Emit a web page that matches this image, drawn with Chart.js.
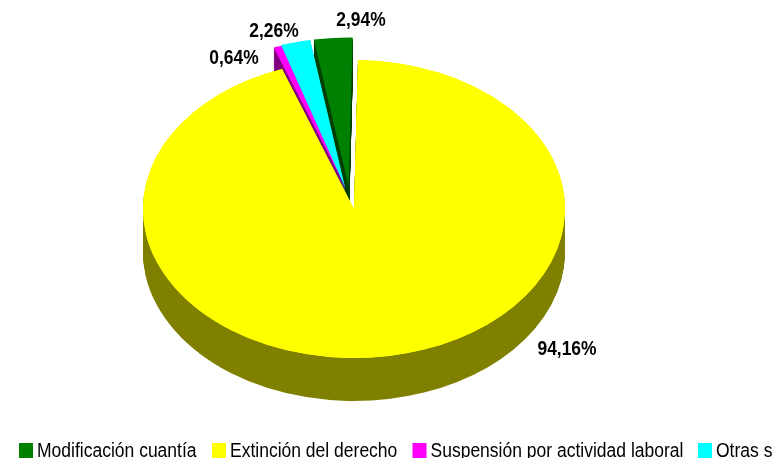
<!DOCTYPE html>
<html><head><meta charset="utf-8">
<style>html,body{margin:0;padding:0;background:#fff;overflow:hidden;width:773px;height:458px}
canvas{display:block}</style>
<script src="https://cdn.jsdelivr.net/npm/chart.js@4"></script></head>
<body><canvas id="c" width="773" height="458" style="width:773px;height:458px"></canvas>
<script>
const categories = ["Modificación cuantía", "Extinción del derecho", "Suspensión por actividad laboral", "Otras situaciones"];
const shares = [2.94, 94.16, 0.64, 2.26];
const topColors = ["#008000", "#FFFF00", "#FF00FF", "#00FFFF"];
const sideColors = ["#004000", "#808000", "#800080", "#008080"];
const explode = [32, 0, 32, 32];
const nudge = [-3, 0, 2, -1.5];
const font = "'Liberation Sans',sans-serif";
const centerX = 354, centerY = 209, squash = 0.706, depth = 43, pieRadius = 211;
const labelSpots = [[361,20],[567,349],[234,58],[274,31]];
const legendStarts = [19, 212, 412.5, 698];

function place(ctx, chart, dy){
  const a = chart.chartArea;
  ctx.translate(centerX, centerY + dy);
  ctx.scale(1, squash);
  ctx.translate(-(a.left + a.right) / 2, -(a.top + a.bottom) / 2);
}
function narrowText(ctx, text, x, y, factor){
  ctx.fillText(text, x, y, ctx.measureText(text).width * factor);
}
const tilt = {
  id: 'tilt',
  beforeDatasetsDraw(chart){
    const ctx = chart.ctx, arcs = chart.getDatasetMeta(0).data, area = chart.chartArea;
    arcs.forEach((a,i) => {
      const mid = (a.startAngle + a.endAngle) / 2;
      a.x = (area.left + area.right) / 2 + Math.cos(mid) * explode[i] + nudge[i];
      a.y = (area.top + area.bottom) / 2 + Math.sin(mid) * explode[i];
    });
    [0,3,2,1].forEach(i => {
      const arc = arcs[i], saved = arc.options;
      arc.options = Object.assign(Object.create(saved), {backgroundColor: sideColors[i], borderColor: sideColors[i]});
      for (let d = depth; d >= 1; d--) { ctx.save(); place(ctx, chart, d); arc.draw(ctx); ctx.restore(); }
      arc.options = saved;
    });
    ctx.save();
    place(ctx, chart, 0);
  },
  afterDatasetsDraw(chart){
    const ctx = chart.ctx;
    chart.getDatasetMeta(0).data[1].draw(ctx);
    ctx.restore();
    ctx.save();
    ctx.fillStyle = '#000';
    ctx.font = "bold 20px " + font;
    ctx.textAlign = 'center';
    ctx.textBaseline = 'middle';
    shares.forEach((v,i) => narrowText(ctx, v.toFixed(2).replace('.',',') + '%', labelSpots[i][0], labelSpots[i][1], 0.87));
    ctx.font = "20px " + font;
    ctx.textAlign = 'left';
    ctx.textBaseline = 'alphabetic';
    categories.forEach((t,i) => {
      ctx.fillStyle = topColors[i];
      ctx.fillRect(legendStarts[i], 443, 14, 15);
      ctx.fillStyle = '#000';
      narrowText(ctx, t, legendStarts[i] + 18, 457, 0.875);
    });
    ctx.restore();
  }
};
new Chart(document.getElementById('c'), {
  type: 'pie',
  data: { labels: categories, datasets: [{ data: shares, backgroundColor: topColors, borderWidth: 0, hoverOffset: 0, clip: false }] },
  options: {
    responsive: false, animation: false,
    rotation: -9.5, radius: pieRadius,
    plugins: { tooltip: { enabled: false }, legend: { display: false } }
  },
  plugins: [tilt]
});
</script></body></html>
